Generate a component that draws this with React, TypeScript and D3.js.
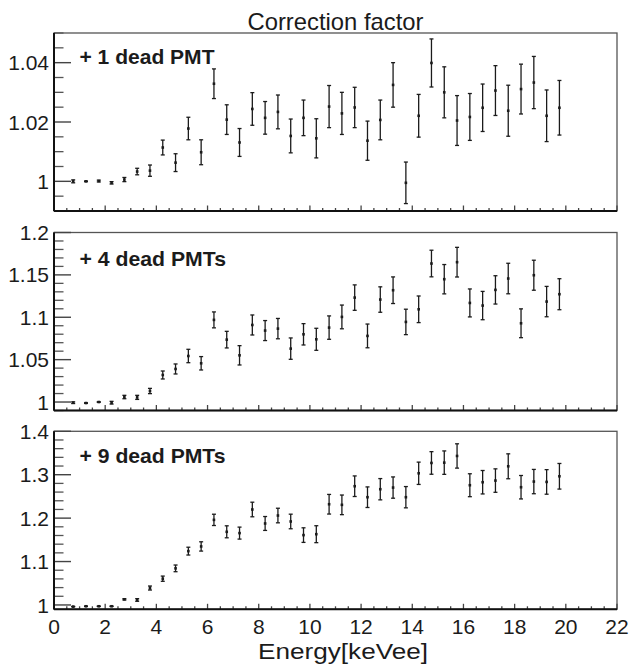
import React from "react";
import * as d3 from "d3";

// Bin centres (keVee)
const energy = [
  0.75, 1.25, 1.75, 2.25, 2.75, 3.25, 3.75, 4.25, 4.75, 5.25, 5.75, 6.25, 6.75,
  7.25, 7.75, 8.25, 8.75, 9.25, 9.75, 10.25, 10.75, 11.25, 11.75, 12.25, 12.75,
  13.25, 13.75, 14.25, 14.75, 15.25, 15.75, 16.25, 16.75, 17.25, 17.75, 18.25,
  18.75, 19.25, 19.75,
];

// +1 dead PMT
const factor1 = [
  1.0, 1.0, 1.0001, 0.9995, 1.0006, 1.0033, 1.0036, 1.0114, 1.0063, 1.0178,
  1.0098, 1.0329, 1.0208, 1.0131, 1.0244, 1.0214, 1.0234, 1.0153, 1.0214,
  1.0145, 1.0252, 1.0229, 1.0249, 1.0137, 1.0207, 1.0325, 0.9995, 1.0221,
  1.0399, 1.03, 1.0205, 1.0217, 1.0248, 1.0306, 1.0238, 1.0311, 1.0333, 1.0221,
  1.0248,
];
const error1 = [
  0.0005, 0.0001, 0.0003, 0.0004, 0.0007, 0.0011, 0.0019, 0.0025, 0.003,
  0.0038, 0.0042, 0.005, 0.005, 0.0047, 0.0055, 0.0055, 0.0057, 0.0057, 0.006,
  0.0066, 0.0071, 0.0071, 0.0068, 0.0066, 0.0067, 0.0075, 0.007, 0.0072,
  0.0081, 0.0086, 0.0084, 0.0079, 0.008, 0.0084, 0.0086, 0.0084, 0.0088,
  0.0087, 0.0092,
];

// +4 dead PMTs
const factor4 = [
  0.9992, 0.9988, 1.0, 0.9992, 1.0059, 1.0055, 1.013, 1.0319, 1.039, 1.0543,
  1.0457, 1.0969, 1.0736, 1.0551, 1.0909, 1.0843, 1.0866, 1.063, 1.0799, 1.074,
  1.0878, 1.1004, 1.1232, 1.078, 1.1209, 1.1319, 1.0945, 1.1094, 1.1634,
  1.1449, 1.165, 1.1169, 1.1138, 1.1323, 1.1457, 1.0929, 1.1496, 1.1185,
  1.1272,
];
const error4 = [
  0.001, 0.0003, 0.0003, 0.0016, 0.002, 0.0024, 0.0031, 0.0047, 0.0059, 0.0079,
  0.0079, 0.0094, 0.0098, 0.0114, 0.0118, 0.0118, 0.012, 0.0126, 0.0126, 0.013,
  0.0138, 0.014, 0.015, 0.014, 0.015, 0.0157, 0.015, 0.0157, 0.0157, 0.0173,
  0.0175, 0.0165, 0.0167, 0.0167, 0.018, 0.017, 0.0177, 0.0179, 0.0183,
];

// +9 dead PMTs
const factor9 = [
  0.9962, 0.997, 0.997, 0.997, 1.013, 1.0115, 1.039, 1.0605, 1.0843, 1.124,
  1.1348, 1.196, 1.1685, 1.1655, 1.2199, 1.1877, 1.206, 1.1923, 1.1609, 1.163,
  1.232, 1.2306, 1.2735, 1.2482, 1.2666, 1.2704, 1.2482, 1.3033, 1.3271,
  1.3278, 1.3432, 1.2758, 1.2827, 1.2865, 1.3194, 1.2712, 1.2842, 1.2834,
  1.2964,
];
const error9 = [
  0.0004, 0.0004, 0.0004, 0.0004, 0.0015, 0.003, 0.0046, 0.006, 0.0077, 0.009,
  0.0107, 0.013, 0.0138, 0.0138, 0.0168, 0.016, 0.0168, 0.0168, 0.0168, 0.0195,
  0.0226, 0.0226, 0.0237, 0.0237, 0.0245, 0.0245, 0.0245, 0.0257, 0.026, 0.027,
  0.028, 0.0264, 0.027, 0.027, 0.0287, 0.027, 0.028, 0.0283, 0.0295,
];

const panelLabels = ["+ 1 dead PMT", "+ 4 dead PMTs", "+ 9 dead PMTs"];
const yDomains = [
  [0.99, 1.05],
  [0.99, 1.2],
  [0.99, 1.4],
];
const yMajorTicks = [
  [1, 1.02, 1.04],
  [1, 1.05, 1.1, 1.15, 1.2],
  [1, 1.1, 1.2, 1.3, 1.4],
];
const yTickLabels = [
  ["1", "1.02", "1.04"],
  ["1", "1.05", "1.1", "1.15", "1.2"],
  ["1", "1.1", "1.2", "1.3", "1.4"],
];
const yMinorSteps = [0.005, 0.01, 0.02];
const xTicks = [0, 2, 4, 6, 8, 10, 12, 14, 16, 18, 20, 22];
const xTickLabels = ["0", "2", "4", "6", "8", "10", "12", "14", "16", "18", "20", "22"];

const W = 631;
const H = 664;
const LEFT = 54;
const RIGHT = 617;
const PANEL_H = 178;
const panelTops = [33, 232.5, 431.3];
const labelOffsets = [31.3, 33.5, 31.4];
const labelWidths = [135, 146.5, 146];
const FONT = "'Liberation Sans', Arial, Helvetica, sans-serif";
const INK = "#1b1b1b";

const x = d3.scaleLinear().domain([0, 22]).range([LEFT, RIGHT]);

function Panel({ idx, values, errors, showXLabels }) {
  const top = panelTops[idx];
  const bottom = top + PANEL_H;
  const y = d3.scaleLinear().domain(yDomains[idx]).range([bottom, top]);
  const [d0, d1] = yDomains[idx];
  const step = yMinorSteps[idx];
  const minor = d3
    .range(Math.ceil(d0 / step - 1e-6), Math.floor(d1 / step + 1e-6) + 1)
    .map((k) => k * step)
    .filter((v) => !yMajorTicks[idx].some((m) => Math.abs(m - v) < 1e-9));
  const xMinor = d3.range(0, 45).map((k) => k * 0.5).filter((v) => v % 2 !== 0);

  return (
    <g>
      {/* frame */}
      <rect x={LEFT} y={top} width={RIGHT - LEFT} height={PANEL_H} fill="none" stroke="#555" strokeWidth={1.3} />
      {/* y ticks */}
      {minor.map((v, i) => (
        <line key={"ym" + i} x1={LEFT} x2={LEFT + 9.5} y1={y(v)} y2={y(v)} stroke="#555" strokeWidth={1.3} />
      ))}
      {yMajorTicks[idx].map((v, i) => (
        <line key={"yM" + i} x1={LEFT} x2={LEFT + 17} y1={y(v)} y2={y(v)} stroke="#444" strokeWidth={1.4} />
      ))}
      {yMajorTicks[idx].map((v, i) => (
        <text key={"yl" + i} x={49} y={y(v)} dy="0.36em" textAnchor="end" fontSize={21} fontFamily={FONT} fill={INK}>
          {yTickLabels[idx][i]}
        </text>
      ))}
      {/* x ticks */}
      {xMinor.map((v, i) => (
        <line key={"xm" + i} x1={x(v)} x2={x(v)} y1={bottom} y2={bottom - 3} stroke="#444" strokeWidth={1.3} />
      ))}
      {xTicks.map((v, i) => (
        <line key={"xM" + i} x1={x(v)} x2={x(v)} y1={bottom} y2={bottom - 5.5} stroke="#444" strokeWidth={1.3} />
      ))}
      {showXLabels &&
        xTicks.map((v, i) => (
          <text key={"xl" + i} x={x(v)} y={633.5} textAnchor="middle" fontSize={21} fontFamily={FONT} fill={INK}>
            {xTickLabels[i]}
          </text>
        ))}
      {/* axis lines */}
      <line x1={LEFT} x2={LEFT} y1={top} y2={bottom} stroke="#111" strokeWidth={2} />
      <line x1={LEFT} x2={RIGHT} y1={bottom} y2={bottom} stroke="#111" strokeWidth={2} />
      {/* data with error bars */}
      {energy.map((e, i) => {
        const cx = x(e);
        const cy = y(values[i]);
        const y0 = y(values[i] - errors[i]);
        const y1 = y(values[i] + errors[i]);
        return (
          <g key={"p" + i} stroke={INK} strokeWidth={1.3}>
            <line x1={cx} x2={cx} y1={y0} y2={y1} />
            <line x1={cx - 2} x2={cx + 2} y1={y0} y2={y0} />
            <line x1={cx - 2} x2={cx + 2} y1={y1} y2={y1} />
            <rect x={cx - 1.3} y={cy - 1.3} width={2.6} height={2.6} fill={INK} stroke="none" />
          </g>
        );
      })}
      <text
        x={79.5}
        y={top + labelOffsets[idx]}
        fontSize={20.5}
        fontWeight="bold"
        fontFamily={FONT}
        fill={INK}
        textLength={labelWidths[idx]}
        lengthAdjust="spacingAndGlyphs"
      >
        {panelLabels[idx]}
      </text>
    </g>
  );
}

export default function App() {
  return (
    <svg
      width={W}
      height={H}
      viewBox={`0 0 ${W} ${H}`}
      style={{ position: "absolute", left: 0, top: 0, background: "#fff" }}
    >
      <rect x={0} y={0} width={W} height={H} fill="#fff" />
      <text x={(LEFT + RIGHT) / 2} y={30} textAnchor="middle" fontSize={24} fontFamily={FONT} fill={INK} textLength={176} lengthAdjust="spacingAndGlyphs">
        Correction factor
      </text>
      <Panel idx={0} values={factor1} errors={error1} showXLabels={false} />
      <Panel idx={1} values={factor4} errors={error4} showXLabels={false} />
      <Panel idx={2} values={factor9} errors={error9} showXLabels={true} />
      <text x={258} y={659} fontSize={22} fontFamily={FONT} fill={INK} textLength={170} lengthAdjust="spacingAndGlyphs">
        Energy[keVee]
      </text>
    </svg>
  );
}
